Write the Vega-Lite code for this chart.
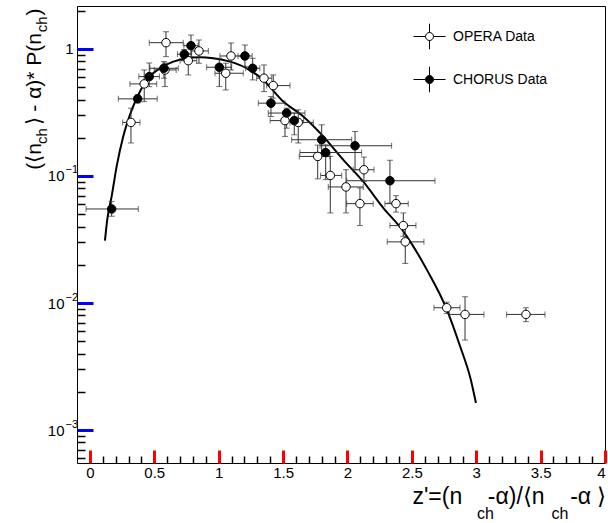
{
  "$schema": "https://vega.github.io/schema/vega-lite/v6.json",
  "width": 528,
  "height": 457,
  "autosize": "none",
  "padding": {"left": 77, "top": 6, "right": 3, "bottom": 60},
  "background": "white",
  "config": {
    "view": {"stroke": "black", "strokeWidth": 1},
    "axis": {"grid": false, "domain": false, "labelFont": "Liberation Sans", "titleFont": "Liberation Sans", "titleFontWeight": "normal", "labelColor": "black", "titleColor": "black"}
  },
  "datasets": {
    "pts": [
      {"s": "OPERA Data", "x": 0.319, "y": 0.264, "xl": 0.255, "xh": 0.389, "yl": 0.182, "yh": 0.342},
      {"s": "OPERA Data", "x": 0.422, "y": 0.531, "xl": 0.311, "xh": 0.519, "yl": 0.385, "yh": 0.684},
      {"s": "OPERA Data", "x": 0.591, "y": 1.121, "xl": 0.461, "xh": 0.725, "yl": 0.870, "yh": 1.367},
      {"s": "OPERA Data", "x": 0.583, "y": 0.684, "xl": 0.50, "xh": 0.67, "yl": 0.506, "yh": 0.776},
      {"s": "OPERA Data", "x": 0.764, "y": 0.809, "xl": 0.70, "xh": 0.83, "yl": 0.625, "yh": 0.925},
      {"s": "OPERA Data", "x": 0.847, "y": 0.965, "xl": 0.79, "xh": 0.92, "yl": 0.772, "yh": 1.177},
      {"s": "OPERA Data", "x": 1.055, "y": 0.644, "xl": 0.971, "xh": 1.191, "yl": 0.476, "yh": 0.772},
      {"s": "OPERA Data", "x": 1.096, "y": 0.881, "xl": 1.01, "xh": 1.19, "yl": 0.684, "yh": 1.115},
      {"s": "OPERA Data", "x": 1.352, "y": 0.589, "xl": 1.295, "xh": 1.412, "yl": 0.462, "yh": 0.749},
      {"s": "OPERA Data", "x": 1.424, "y": 0.515, "xl": 1.373, "xh": 1.554, "yl": 0.41, "yh": 0.625},
      {"s": "OPERA Data", "x": 1.515, "y": 0.273, "xl": 1.40, "xh": 1.60, "yl": 0.205, "yh": 0.313},
      {"s": "OPERA Data", "x": 1.618, "y": 0.264, "xl": 1.554, "xh": 1.735, "yl": 0.182, "yh": 0.332},
      {"s": "OPERA Data", "x": 1.769, "y": 0.1426, "xl": 1.626, "xh": 1.864, "yl": 0.095, "yh": 0.175},
      {"s": "OPERA Data", "x": 1.867, "y": 0.101, "xl": 1.792, "xh": 1.955, "yl": 0.0512, "yh": 0.1426},
      {"s": "OPERA Data", "x": 1.989, "y": 0.082, "xl": 1.851, "xh": 2.123, "yl": 0.0512, "yh": 0.112},
      {"s": "OPERA Data", "x": 2.128, "y": 0.112, "xl": 2.045, "xh": 2.206, "yl": 0.0907, "yh": 0.141},
      {"s": "OPERA Data", "x": 2.097, "y": 0.0606, "xl": 1.994, "xh": 2.2, "yl": 0.0407, "yh": 0.0805},
      {"s": "OPERA Data", "x": 2.377, "y": 0.0606, "xl": 2.291, "xh": 2.472, "yl": 0.052, "yh": 0.070},
      {"s": "OPERA Data", "x": 2.434, "y": 0.0407, "xl": 2.33, "xh": 2.532, "yl": 0.0335, "yh": 0.0512},
      {"s": "OPERA Data", "x": 2.449, "y": 0.0303, "xl": 2.309, "xh": 2.594, "yl": 0.0205, "yh": 0.0402},
      {"s": "OPERA Data", "x": 2.771, "y": 0.00918, "xl": 2.672, "xh": 2.874, "yl": 0.00828, "yh": 0.01016},
      {"s": "OPERA Data", "x": 2.913, "y": 0.00813, "xl": 2.791, "xh": 3.06, "yl": 0.00511, "yh": 0.0112},
      {"s": "OPERA Data", "x": 3.386, "y": 0.00813, "xl": 3.236, "xh": 3.534, "yl": 0.00713, "yh": 0.00918},
      {"s": "CHORUS Data", "x": 0.169, "y": 0.0550, "xl": -0.03, "xh": 0.376, "yl": 0.0482, "yh": 0.0631},
      {"s": "CHORUS Data", "x": 0.371, "y": 0.405, "xl": 0.221, "xh": 0.523, "yl": 0.377, "yh": 0.435},
      {"s": "CHORUS Data", "x": 0.461, "y": 0.606, "xl": 0.38, "xh": 0.54, "yl": 0.505, "yh": 0.776},
      {"s": "CHORUS Data", "x": 0.575, "y": 0.705, "xl": 0.467, "xh": 0.686, "yl": 0.589, "yh": 0.795},
      {"s": "CHORUS Data", "x": 0.733, "y": 0.909, "xl": 0.68, "xh": 0.79, "yl": 0.82, "yh": 0.99},
      {"s": "CHORUS Data", "x": 0.785, "y": 1.062, "xl": 0.73, "xh": 0.84, "yl": 0.87, "yh": 1.288},
      {"s": "CHORUS Data", "x": 1.005, "y": 0.718, "xl": 0.907, "xh": 1.101, "yl": 0.506, "yh": 0.845},
      {"s": "CHORUS Data", "x": 1.204, "y": 0.881, "xl": 1.15, "xh": 1.26, "yl": 0.726, "yh": 1.075},
      {"s": "CHORUS Data", "x": 1.264, "y": 0.705, "xl": 1.21, "xh": 1.32, "yl": 0.571, "yh": 0.845},
      {"s": "CHORUS Data", "x": 1.406, "y": 0.3745, "xl": 1.308, "xh": 1.515, "yl": 0.294, "yh": 0.422},
      {"s": "CHORUS Data", "x": 1.528, "y": 0.313, "xl": 1.385, "xh": 1.670, "yl": 0.238, "yh": 0.342},
      {"s": "CHORUS Data", "x": 1.587, "y": 0.273, "xl": 1.51, "xh": 1.66, "yl": 0.211, "yh": 0.313},
      {"s": "CHORUS Data", "x": 1.80, "y": 0.193, "xl": 1.567, "xh": 2.033, "yl": 0.147, "yh": 0.253},
      {"s": "CHORUS Data", "x": 1.831, "y": 0.153, "xl": 1.631, "xh": 2.11, "yl": 0.0936, "yh": 0.176},
      {"s": "CHORUS Data", "x": 2.059, "y": 0.173, "xl": 1.787, "xh": 2.343, "yl": 0.112, "yh": 0.224},
      {"s": "CHORUS Data", "x": 2.330, "y": 0.0918, "xl": 1.994, "xh": 2.68, "yl": 0.0612, "yh": 0.133}
    ],
    "curve": [
      {"x": 0.117, "y": 0.0310}, {"x": 0.135, "y": 0.0454}, {"x": 0.169, "y": 0.0692},
      {"x": 0.208, "y": 0.119}, {"x": 0.259, "y": 0.205}, {"x": 0.311, "y": 0.303},
      {"x": 0.376, "y": 0.435}, {"x": 0.453, "y": 0.589}, {"x": 0.544, "y": 0.705},
      {"x": 0.648, "y": 0.795}, {"x": 0.752, "y": 0.845}, {"x": 0.855, "y": 0.861},
      {"x": 0.958, "y": 0.845}, {"x": 1.088, "y": 0.795}, {"x": 1.218, "y": 0.705},
      {"x": 1.346, "y": 0.571}, {"x": 1.502, "y": 0.386}, {"x": 1.657, "y": 0.294},
      {"x": 1.812, "y": 0.205}, {"x": 1.968, "y": 0.134}, {"x": 2.123, "y": 0.0902},
      {"x": 2.278, "y": 0.0561}, {"x": 2.434, "y": 0.0367}, {"x": 2.615, "y": 0.0184},
      {"x": 2.771, "y": 0.00891}, {"x": 2.874, "y": 0.00459}, {"x": 2.957, "y": 0.00251},
      {"x": 2.998, "y": 0.00163}
    ]
  },
  "resolve": {"axis": {"x": "independent", "y": "independent"}},
  "layer": [
    {
      "data": {"name": "curve"},
      "mark": {"type": "line", "color": "black", "strokeWidth": 2, "interpolate": "monotone"},
      "encoding": {
        "x": {"field": "x", "type": "quantitative",
          "scale": {"domain": [-0.1, 4.0], "nice": false, "zero": false},
          "axis": {"orient": "bottom", "offset": -13, "values": [0, 0.5, 1, 1.5, 2, 2.5, 3, 3.5, 4], "format": "~g", "ticks": true, "tickSize": 13, "tickColor": "red", "tickWidth": 3, "labelFontSize": 15, "labelPadding": 2,
            "title": "z'=(n\u00a0\u00a0\u00a0\u00a0-α)/⟨n\u00a0\u00a0\u00a0\u00a0-α ⟩", "titleFontSize": 23, "titleX": 529, "titleY": 53, "titleAlign": "right", "titleBaseline": "alphabetic"}},
        "y": {"field": "y", "type": "quantitative",
          "scale": {"type": "log", "domain": [0.00055, 2.18], "nice": false},
          "axis": {"orient": "left", "offset": -16, "values": [0.001, 0.01, 0.1, 1], "ticks": true, "tickSize": 16, "tickColor": "blue", "tickWidth": 3, "labelFontSize": 15, "labelPadding": 4,
            "labelExpr": "datum.value >= 0.5 ? '1' : ''",
            "title": "(⟨n\u00a0\u00a0\u00a0⟩ - α)* P(n\u00a0\u00a0\u00a0)", "titleFontSize": 21, "titleAngle": -90, "titleX": -53, "titleY": 2, "titleAlign": "right", "titleBaseline": "alphabetic"}}
      }
    },
    {
      "data": {"name": "pts"},
      "mark": {"type": "rule", "color": "#333333", "strokeWidth": 1},
      "encoding": {
        "x": {"field": "xl", "type": "quantitative",
          "axis": {"orient": "bottom", "offset": -7, "values": [0.1,0.2,0.3,0.4,0.6,0.7,0.8,0.9,1.1,1.2,1.3,1.4,1.6,1.7,1.8,1.9,2.1,2.2,2.3,2.4,2.6,2.7,2.8,2.9,3.1,3.2,3.3,3.4,3.6,3.7,3.8,3.9], "ticks": true, "tickSize": 7, "tickColor": "black", "tickWidth": 1.5, "labels": false,
            "title": "ch\u00a0\u00a0\u00a0\u00a0\u00a0\u00a0\u00a0\u00a0\u00a0\u00a0\u00a0\u00a0\u00a0ch", "titleFontSize": 16, "titleX": 491, "titleY": 62, "titleAlign": "right", "titleBaseline": "alphabetic"}},
        "x2": {"field": "xh"},
        "y": {"field": "y", "type": "quantitative",
          "axis": {"orient": "left", "offset": -8, "values": [0.0006,0.0007,0.0008,0.0009,0.002,0.003,0.004,0.005,0.006,0.007,0.008,0.009,0.02,0.03,0.04,0.05,0.06,0.07,0.08,0.09,0.2,0.3,0.4,0.5,0.6,0.7,0.8,0.9,2], "ticks": true, "tickSize": 8, "tickColor": "black", "tickWidth": 1.5, "labels": false,
            "title": "ch\u00a0\u00a0\u00a0\u00a0\u00a0\u00a0\u00a0\u00a0\u00a0\u00a0\u00a0\u00a0\u00a0\u00a0\u00a0\u00a0\u00a0\u00a0\u00a0\u00a0\u00a0\u00a0\u00a0ch", "titleFontSize": 15, "titleAngle": -90, "titleX": -39, "titleY": 10, "titleAlign": "right", "titleBaseline": "alphabetic"}}
      }
    },
    {
      "data": {"name": "pts"},
      "mark": {"type": "rule", "color": "#333333", "strokeWidth": 1},
      "encoding": {
        "x": {"field": "x", "type": "quantitative", "axis": null},
        "y": {"field": "yl", "type": "quantitative",
          "axis": {"orient": "left", "values": [0.001, 0.01, 0.1], "ticks": false, "labelFontSize": 11, "labelPadding": 12, "labelAlign": "left", "labelOffset": -6,
            "labelExpr": "datum.value > 0.05 ? '−1' : (datum.value > 0.005 ? '−2' : '−3')", "title": null}},
        "y2": {"field": "yh"}
      }
    },
    {
      "data": {"name": "pts"},
      "mark": {"type": "tick", "orient": "vertical", "size": 6, "thickness": 1, "color": "#333333"},
      "encoding": {
        "x": {"field": "xl", "type": "quantitative", "axis": null},
        "y": {"field": "y", "type": "quantitative",
          "axis": {"orient": "left", "values": [0.001, 0.01, 0.1], "ticks": false, "labelFontSize": 15, "labelPadding": 13, "labelAlign": "right",
            "labelExpr": "'10'", "title": null}}
      }
    },
    {
      "data": {"name": "pts"},
      "mark": {"type": "tick", "orient": "vertical", "size": 6, "thickness": 1, "color": "#333333"},
      "encoding": {
        "x": {"field": "xh", "type": "quantitative", "axis": null},
        "y": {"field": "y", "type": "quantitative", "axis": null}
      }
    },
    {
      "data": {"name": "pts"},
      "mark": {"type": "tick", "orient": "horizontal", "size": 6, "thickness": 1, "color": "#333333"},
      "encoding": {
        "x": {"field": "x", "type": "quantitative", "axis": null},
        "y": {"field": "yl", "type": "quantitative", "axis": null}
      }
    },
    {
      "data": {"name": "pts"},
      "mark": {"type": "tick", "orient": "horizontal", "size": 6, "thickness": 1, "color": "#333333"},
      "encoding": {
        "x": {"field": "x", "type": "quantitative", "axis": null},
        "y": {"field": "yh", "type": "quantitative", "axis": null}
      }
    },
    {
      "data": {"name": "pts"},
      "mark": {"type": "point", "shape": "circle", "filled": true, "size": 72, "stroke": "black", "strokeWidth": 1, "opacity": 1},
      "encoding": {
        "x": {"field": "x", "type": "quantitative", "axis": null},
        "y": {"field": "y", "type": "quantitative", "axis": null},
        "fill": {"field": "s", "type": "nominal",
          "scale": {"domain": ["OPERA Data", "CHORUS Data"], "range": ["white", "black"]},
          "legend": {"orient": "none", "legendX": 336, "legendY": 14, "title": null, "padding": 0,
            "symbolType": "M-1,0H-0.25M0.25,0H1M0,-0.8V-0.25M0,0.25V0.8M0.25,0A0.25,0.25,0,1,1,-0.25,0A0.25,0.25,0,1,1,0.25,0Z",
            "symbolSize": 1024, "symbolStrokeColor": "black", "symbolStrokeWidth": 1, "symbolOpacity": 1,
            "labelFont": "Liberation Sans", "labelFontSize": 14, "labelColor": "black", "labelOffset": 7, "rowPadding": 11}}
      }
    }
  ]
}
